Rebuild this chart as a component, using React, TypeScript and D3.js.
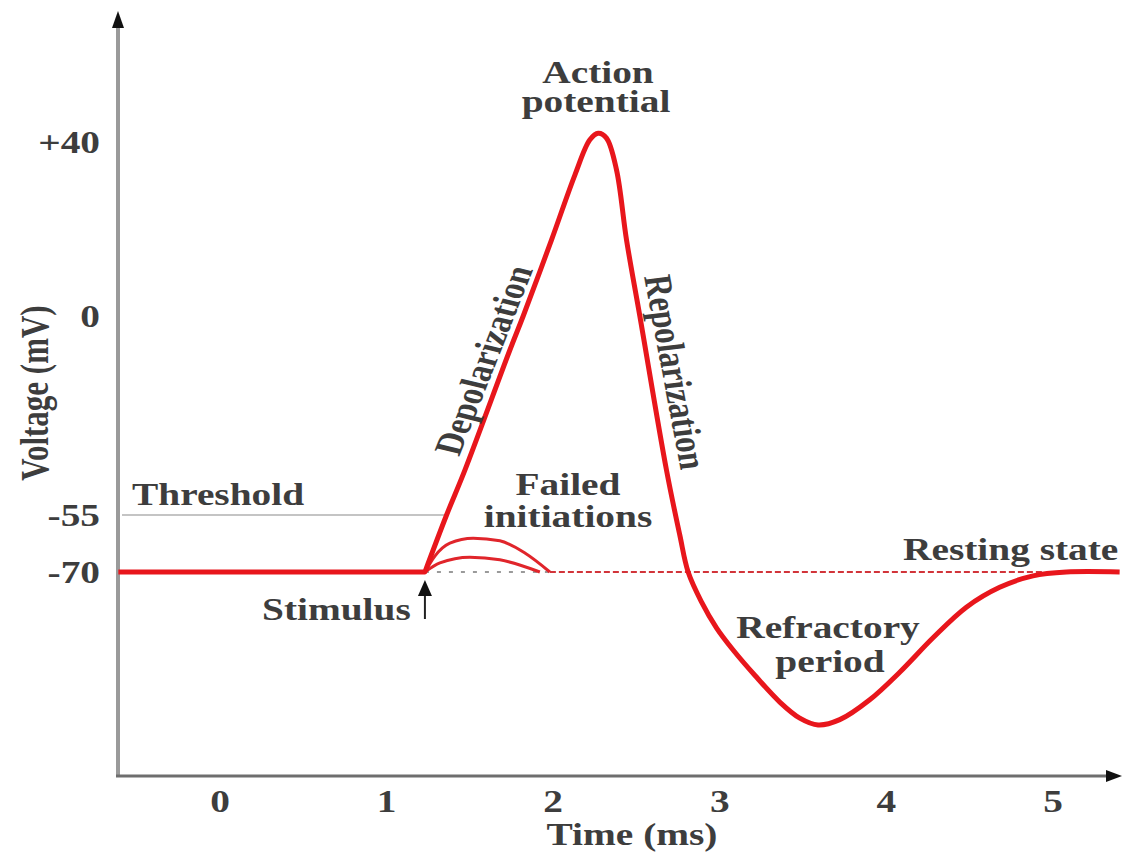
// action potential diagram - voltage over time
import * as d3 from 'd3';

const restTime = [-0.61, 1.23];
const restVolt = [-70, -70];

const apTime = [1.23, 1.36, 1.47, 1.74, 1.82, 1.99, 2.13, 2.22, 2.27, 2.32, 2.38, 2.44, 2.52, 2.68, 2.76, 2.81, 2.89, 2.98, 3.08, 3.21, 3.36, 3.48, 3.59, 3.72, 3.9, 4.08, 4.28, 4.48, 4.68, 4.88, 5.08, 5.4];
const apVolt = [-70, -55, -42.6, -9.4, 0, 17.5, 32.4, 40.5, 42, 40.9, 33.6, 17.5, 0, -42.6, -60.3, -70, -73.9, -77.3, -80.2, -83.5, -87, -89.1, -90, -89.3, -86.7, -83.1, -78.6, -74.6, -72, -70.5, -70, -70];

const fail1Time = [1.23, 1.29, 1.38, 1.52, 1.68, 1.83, 1.98];
const fail1Volt = [-70, -65.8, -62.4, -61.1, -61.8, -65, -70];
const fail2Time = [1.23, 1.32, 1.5, 1.68, 1.92];
const fail2Volt = [-70, -67.6, -66.1, -66.8, -70];

const xTicks = [0, 1, 2, 3, 4, 5];
const yTicks = [40, 0, -55, -70];
const yTickLabels = ['+40', '0', '-55', '-70'];

const stimulusTime = 1.23;
const failEndTime = 1.98;
const restReturnTime = 4.95;
const thresholdEndTime = 1.36;

const W = 1122;
const H = 854;
const axisX = 118;
const axisY = 776;
const stretch = 1.27;
const red = '#e8161c';
const ink = '#3d3d3d';

const x = d3.scaleLinear().domain([0, 5]).range([220, 1053]);
// schematic voltage axis is not uniform, so use a piecewise scale
const y = d3.scaleLinear().domain([-90, -70, -55, 0, 40]).range([725, 572, 515, 316, 142]);

const flat = d3.line<[number, number]>()
  .x(d => x(d[0]))
  .y(d => y(d[1]));

const smooth = d3.line<[number, number]>()
  .x(d => x(d[0]))
  .y(d => y(d[1]))
  .curve(d3.curveCatmullRom.alpha(0.5));

const small = d3.line<[number, number]>()
  .x(d => x(d[0]))
  .y(d => y(d[1]))
  .curve(d3.curveMonotoneX);

const zip = (t: number[], v: number[]) => t.map((d, i) => [d, v[i]] as [number, number]);

function Label(props: { x: number; y: number; text: string; anchor?: string; rotate?: number; dy?: string }) {
  const { rotate = 0, anchor = 'middle', dy = '0' } = props;
  return (
    <text
      transform={`translate(${props.x},${props.y}) scale(${stretch},1) rotate(${rotate})`}
      textAnchor={anchor}
      dy={dy}
      fontFamily='"Liberation Serif", "Times New Roman", serif'
      fontWeight="bold"
      fontSize={31}
      fill={ink}
    >
      {props.text}
    </text>
  );
}

export default function App() {
  const rest = y(-70);
  // resting line and spike drawn as one path so the corner at the stimulus stays sharp
  const apPath = (flat(zip(restTime, restVolt)) || '') + (smooth(zip(apTime, apVolt)) || '').replace(/^M/, 'L');
  return (
    <svg width={W} height={H} style={{ position: 'absolute', left: 0, top: 0, background: '#fff' }}>
      {/* axes */}
      <line x1={axisX} y1={axisY} x2={axisX} y2={26} stroke="#9a9a9a" strokeWidth={4} />
      <path d={`M${axisX - 6},${28} L${axisX},${11} L${axisX + 6},${28} Z`} fill="#111" />
      <line x1={axisX - 2} y1={axisY} x2={1108} y2={axisY} stroke="#6e6e6e" strokeWidth={3} />
      <path d={`M1106,${axisY - 6} L1122,${axisY} L1106,${axisY + 6} Z`} fill="#111" />

      {/* threshold */}
      <line x1={axisX + 4} x2={x(thresholdEndTime)} y1={y(-55)} y2={y(-55)} stroke="#b0b0b0" strokeWidth={1.5} />

      {/* resting state guide */}
      <line x1={x(stimulusTime)} x2={x(failEndTime)} y1={rest} y2={rest} stroke="#9a9a9a" strokeWidth={2} strokeDasharray="4 8" />
      <line x1={x(failEndTime)} x2={x(restReturnTime)} y1={rest} y2={rest} stroke="#d2343a" strokeWidth={2} strokeDasharray="6 3" />

      {/* failed initiations */}
      <path d={small(zip(fail1Time, fail1Volt)) || ''} fill="none" stroke="#e0252b" strokeWidth={3} />
      <path d={small(zip(fail2Time, fail2Volt)) || ''} fill="none" stroke="#e0252b" strokeWidth={3} />

      {/* action potential */}
      <path d={apPath} fill="none" stroke={red} strokeWidth={5} strokeLinejoin="round" />

      {/* stimulus arrow */}
      <line x1={x(stimulusTime)} x2={x(stimulusTime)} y1={594} y2={619} stroke="#222" strokeWidth={2} />
      <path d={`M${x(stimulusTime) - 7},596 L${x(stimulusTime)},580 L${x(stimulusTime) + 7},596 Z`} fill="#111" />

      {/* tick labels */}
      {xTicks.map(t => (
        <Label key={'x' + t} x={x(t)} y={812} text={String(t)} />
      ))}
      {yTicks.map((v, i) => (
        <Label key={'y' + v} x={100} y={y(v)} dy="0.35em" anchor="end" text={yTickLabels[i]} />
      ))}

      {/* axis titles */}
      <Label x={632} y={845} text="Time (ms)" />
      <Label x={34} y={393} rotate={-90} dy="0.35em" text="Voltage (mV)" />

      {/* annotations */}
      <Label x={598} y={83} text="Action" />
      <Label x={596} y={112} text="potential" />
      <Label x={483} y={360} rotate={-72.7} dy="0.35em" text="Depolarization" />
      <Label x={676} y={372} rotate={81.5} dy="0.35em" text="Repolarization" />
      <Label x={132} y={505} anchor="start" text="Threshold" />
      <Label x={568} y={495} text="Failed" />
      <Label x={568} y={527} text="initiations" />
      <Label x={262} y={620} anchor="start" text="Stimulus" />
      <Label x={903} y={560} anchor="start" text="Resting state" />
      <Label x={828} y={638} text="Refractory" />
      <Label x={830} y={672} text="period" />
    </svg>
  );
}
